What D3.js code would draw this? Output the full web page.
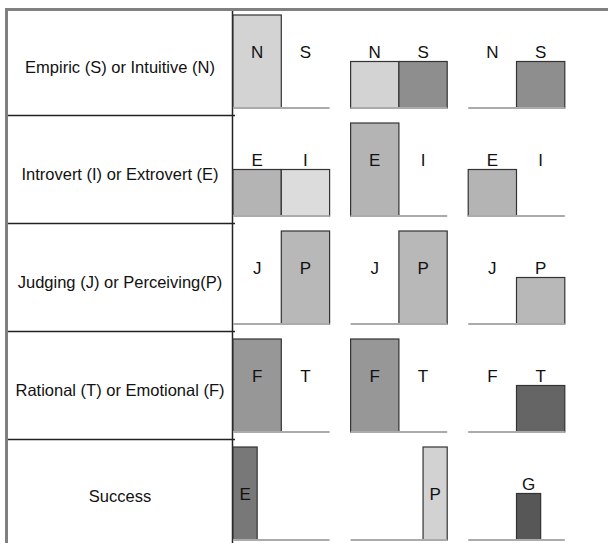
<!DOCTYPE html>
<html>
<head>
<meta charset="utf-8">
<script src="https://cdn.jsdelivr.net/npm/d3@7/dist/d3.min.js"></script>
<style>
  body { margin: 0; background: #fff; }
  text { font-family: "Liberation Sans", Arial, sans-serif; fill: #111; }
</style>
</head>
<body>
<div id="chart"></div>
<script>
// Data
var rowNames = ["Empiric (S) or Intuitive (N)", "Introvert (I) or Extrovert (E)",
  "Judging (J) or Perceiving(P)", "Rational (T) or Emotional (F)", "Success"];
var pairLetters = [["N", "S"], ["E", "I"], ["J", "P"], ["F", "T"]];
var nsValues = [[1, 0], [0.5, 0.5], [0, 0.5]];
var eiValues = [[0.5, 0.5], [1, 0], [0.5, 0]];
var jpValues = [[0, 1], [0, 1], [0, 0.5]];
var ftValues = [[1, 0], [1, 0], [0, 0.5]];
var pairValues = [nsValues, eiValues, jpValues, ftValues];
var successLetters = ["E", "P", "G"];
var successSlots = [0, 3, 2];
var successValues = [1, 1, 0.5];

// Fill for each letter, one list per row
var rowColors = [
  { N: "#d3d3d3", S: "#8e8e8e" },
  { E: "#b4b4b4", I: "#dcdcdc" },
  { J: "#b8b8b8", P: "#b8b8b8" },
  { F: "#979797", T: "#656565" },
  { E: "#787878", P: "#d2d2d2", G: "#575757" }
];

// Set Up Space
var svgWidth = 608;
var svgHeight = 543;

var svg = d3.select("#chart")
  .append("svg")
  .attr("width", svgWidth)
  .attr("height", svgHeight);

// Scales
var rowScale = d3.scaleBand()
  .domain(rowNames)
  .range([7, 547]);

var yVal = d3.scaleLinear()
  .domain([0, 1])
  .range([101, 8]);

var panelScale = d3.scaleBand()
  .domain([0, 1, 2])
  .range([233, 564.8])
  .paddingInner(0.1786);

var pairScale = d3.scaleBand()
  .domain([0, 1])
  .range([0, panelScale.bandwidth()]);

var quarterScale = d3.scaleBand()
  .domain([0, 1, 2, 3])
  .range([0, panelScale.bandwidth()]);

// Build bar list
var bars = [];
pairValues.forEach(function(rowVals, r) {
  rowVals.forEach(function(vals, p) {
    vals.forEach(function(v, k) {
      bars.push({
        row: r,
        letter: pairLetters[r][k],
        value: v,
        x: panelScale(p) + pairScale(k),
        w: pairScale.bandwidth(),
        narrow: false
      });
    });
  });
});
successLetters.forEach(function(letter, p) {
  bars.push({
    row: 4,
    letter: letter,
    value: successValues[p],
    x: panelScale(p) + quarterScale(successSlots[p]),
    w: quarterScale.bandwidth(),
    narrow: true
  });
});

function rowTop(r) { return rowScale(rowNames[r]); }

// Left label column
var labelGroup = svg.append("g");

labelGroup.selectAll("text")
  .data(rowNames)
  .enter()
  .append("text")
    .attr("x", 120)
    .attr("y", function(d, i) {
      var top = i === 0 ? 10 : rowScale(d);
      var bottom = Math.min(rowScale(d) + rowScale.step(), svgHeight);
      return (top + bottom) / 2 + 10.5;
    })
    .attr("text-anchor", "middle")
    .style("font-size", "16.5px")
    .text(function(d) { return d; });

labelGroup.selectAll("line.sep")
  .data(rowNames.slice(1))
  .enter()
  .append("line")
    .attr("class", "sep")
    .attr("x1", 8)
    .attr("x2", 235)
    .attr("y1", function(d) { return rowScale(d) + 0.5; })
    .attr("y2", function(d) { return rowScale(d) + 0.5; })
    .attr("stroke", "#222")
    .attr("stroke-width", 1.5);

labelGroup.append("line")
  .attr("x1", 232.5)
  .attr("x2", 232.5)
  .attr("y1", 10)
  .attr("y2", svgHeight)
  .attr("stroke", "#222")
  .attr("stroke-width", 1.5);

// Bars
var barGroup = svg.append("g");

barGroup.selectAll("rect")
  .data(bars.filter(function(d) { return d.value > 0; }))
  .enter()
  .append("rect")
    .attr("x", function(d) { return d.x; })
    .attr("y", function(d) { return rowTop(d.row) + yVal(d.value); })
    .attr("width", function(d) { return d.w; })
    .attr("height", function(d) { return yVal(0) - yVal(d.value); })
    .style("fill", function(d) { return rowColors[d.row][d.letter]; })
    .attr("stroke", "#333")
    .attr("stroke-width", 1.2);

// Baselines
var baseData = [];
rowNames.forEach(function(name, r) {
  panelScale.domain().forEach(function(p) { baseData.push({ row: r, panel: p }); });
});

barGroup.selectAll("line.base")
  .data(baseData)
  .enter()
  .append("line")
    .attr("class", "base")
    .attr("x1", function(d) { return panelScale(d.panel); })
    .attr("x2", function(d) { return panelScale(d.panel) + panelScale.bandwidth(); })
    .attr("y1", function(d) { return rowTop(d.row) + yVal(0); })
    .attr("y2", function(d) { return rowTop(d.row) + yVal(0); })
    .attr("stroke", "#ababab")
    .attr("stroke-width", 2);

// Letters
barGroup.selectAll("text")
  .data(bars.filter(function(d) { return d.letter !== ""; }))
  .enter()
  .append("text")
    .attr("x", function(d) { return d.x + d.w / 2; })
    .attr("y", function(d) {
      if (d.narrow && d.value === 1) {
        return rowTop(d.row) + (yVal(0) + yVal(1)) / 2 + 6;
      }
      return rowTop(d.row) + 51;
    })
    .attr("text-anchor", "middle")
    .style("font-size", "17px")
    .text(function(d) { return d.letter; });

// Outer frame
svg.append("path")
  .attr("d", "M6.5," + svgHeight + "V9.5H" + svgWidth)
  .attr("fill", "none")
  .attr("stroke", "#808080")
  .attr("stroke-width", 3);
</script>
</body>
</html>
